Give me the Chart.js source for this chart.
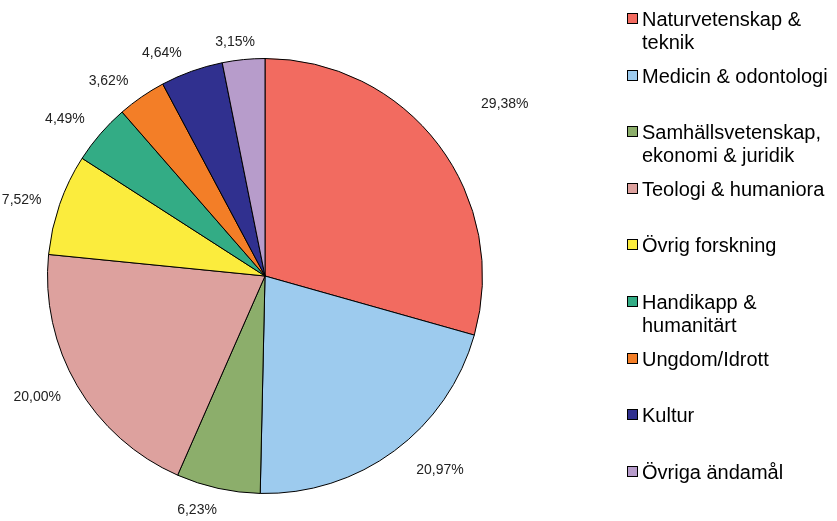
<!DOCTYPE html>
<html>
<head>
<meta charset="utf-8">
<script src="https://cdn.jsdelivr.net/npm/chart.js@4"></script>
<style>
  html, body { margin: 0; padding: 0; background: #fff; }
  #wrap { position: relative; width: 837px; height: 521px; }
  #c { position: absolute; left: 0; top: 0; }
  #legend { position: absolute; left: 627px; top: 8px; font-family: "Liberation Sans", Arial, sans-serif; font-size: 20px; line-height: 23px; color: #000; }
  .item { position: relative; height: 56.6px; padding-left: 15px; white-space: nowrap; }
  .box { position: absolute; left: 0; top: 5px; width: 9px; height: 9px; border: 1px solid #000; }
</style>
</head>
<body>
<div id="wrap">
  <canvas id="c" width="837" height="521"></canvas>
  <div id="legend"></div>
</div>
<script>
// ---- data ----
const categories = [
  ["Naturvetenskap &", "teknik"],
  ["Medicin & odontologi"],
  ["Samhällsvetenskap,", "ekonomi & juridik"],
  ["Teologi & humaniora"],
  ["Övrig forskning"],
  ["Handikapp &", "humanitärt"],
  ["Ungdom/Idrott"],
  ["Kultur"],
  ["Övriga ändamål"]
];
const shares = [29.38, 20.97, 6.23, 20.00, 7.52, 4.49, 3.62, 4.64, 3.15];
const shareLabels = ["29,38%", "20,97%", "6,23%", "20,00%", "7,52%", "4,49%", "3,62%", "4,64%", "3,15%"];

// ---- style ----
const colors = ["#F26B60", "#9DCBEE", "#8CAE6B", "#DDA19E", "#FBEC3D", "#33AC85", "#F37E27", "#30308F", "#B79CCB"];
// label placement: distance of label centre from pie centre (px) and angle tweak (deg)
const labelDist = [295, 261, 244, 258, 255, 254, 250, 246, 236];
const labelAngleTweak = [1.5, -5.6, 3.7, 2.3, -1.8, -2.8, -4.2, -5.1, -1.6];

const labelPlugin = {
  id: 'sliceLabels',
  afterDatasetsDraw(chart) {
    const ctx = chart.ctx;
    const meta = chart.getDatasetMeta(0);
    ctx.save();
    ctx.font = '14px "Liberation Sans", Arial, sans-serif';
    ctx.fillStyle = '#222';
    ctx.textAlign = 'center';
    ctx.textBaseline = 'middle';
    meta.data.forEach((arc, i) => {
      const p = arc.getProps(['x', 'y', 'startAngle', 'endAngle'], true);
      const mid = (p.startAngle + p.endAngle) / 2 + labelAngleTweak[i] * Math.PI / 180;
      const x = p.x + Math.cos(mid) * labelDist[i];
      const y = p.y + Math.sin(mid) * labelDist[i];
      ctx.fillText(shareLabels[i], x, y);
    });
    ctx.restore();
  }
};

const chart = new Chart(document.getElementById('c'), {
  type: 'pie',
  data: {
    labels: categories,
    datasets: [{
      data: shares,
      backgroundColor: colors,
      borderColor: '#000',
      borderWidth: 1
    }]
  },
  options: {
    responsive: false,
    animation: false,
    layout: { padding: { left: 47, top: 58, right: 354, bottom: 27 } },
    plugins: {
      legend: { display: false },
      tooltip: { enabled: false }
    }
  },
  plugins: [labelPlugin]
});

// HTML legend built from chart data
const legendEl = document.getElementById('legend');
chart.data.labels.forEach((lab, i) => {
  const item = document.createElement('div');
  item.className = 'item';
  const box = document.createElement('div');
  box.className = 'box';
  box.style.background = chart.data.datasets[0].backgroundColor[i];
  item.appendChild(box);
  const txt = document.createElement('div');
  txt.innerHTML = lab.map(s => s.replace(/&/g, '&amp;')).join('<br>');
  item.appendChild(txt);
  legendEl.appendChild(item);
});
</script>
</body>
</html>
